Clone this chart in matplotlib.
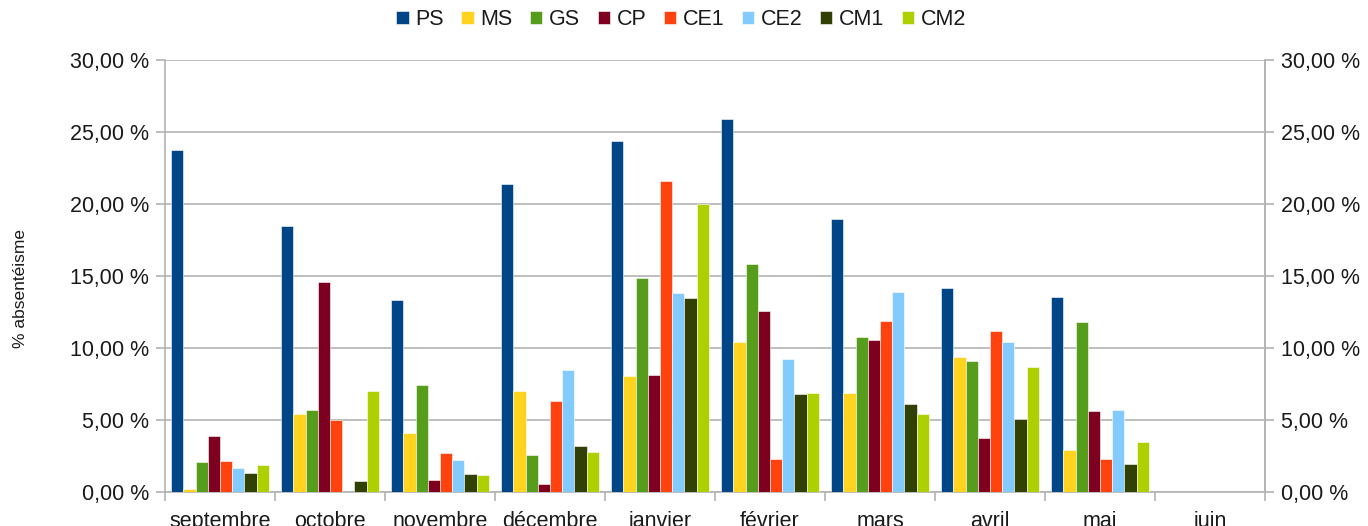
import numpy as np
import matplotlib.pyplot as plt
from matplotlib.ticker import FuncFormatter, FixedLocator

plt.rcParams['font.family'] = ['Liberation Sans', 'DejaVu Sans']

# months (x categories)
mois = ['septembre', 'octobre', 'novembre', 'décembre', 'janvier',
        'février', 'mars', 'avril', 'mai', 'juin']

# class levels (series)
classes = ['PS', 'MS', 'GS', 'CP', 'CE1', 'CE2', 'CM1', 'CM2']
couleurs = ['#004586', '#ffd320', '#579d1c', '#7e0021',
            '#ff420e', '#83caff', '#314004', '#aecf00']

# absenteeism in %, one list per class, juin has no data
ps = [23.77, 18.47, 13.36, 21.39, 24.40, 25.88, 18.94, 14.14, 13.52, np.nan]
ms = [0.21, 5.42, 4.10, 6.99, 8.06, 10.44, 6.90, 9.38, 2.94, np.nan]
gs = [2.06, 5.67, 7.43, 2.57, 14.84, 15.81, 10.79, 9.12, 11.78, np.nan]
cp = [3.91, 14.58, 0.83, 0.56, 8.15, 12.57, 10.53, 3.72, 5.60, np.nan]
ce1 = [2.15, 4.97, 2.69, 6.30, 21.57, 2.31, 11.88, 11.16, 2.31, np.nan]
ce2 = [1.69, 0.00, 2.22, 8.50, 13.80, 9.21, 13.89, 10.44, 5.67, np.nan]
cm1 = [1.34, 0.74, 1.25, 3.19, 13.45, 6.83, 6.11, 5.05, 1.97, np.nan]
cm2 = [1.88, 6.99, 1.16, 2.75, 20.00, 6.90, 5.42, 8.68, 3.47, np.nan]

series = [ps, ms, gs, cp, ce1, ce2, cm1, cm2]

fig = plt.figure(figsize=(13.68, 5.26), dpi=100)
ax = fig.add_axes([165 / 1368, 34 / 526, 1100 / 1368, 432 / 526])

x = np.arange(len(mois))
w = 0.89 / len(classes)
for i, (nom, vals, c) in enumerate(zip(classes, series, couleurs)):
    pos = x - 0.445 + w * (i + 0.5)
    ax.bar(pos, vals, width=w, color=c, label=nom,
           edgecolor='white', linewidth=0.4, zorder=3)

ax.set_xlim(-0.5, len(mois) - 0.5)
ax.set_ylim(0, 30)
ax.set_yticks(np.arange(0, 31, 5))
fmt = FuncFormatter(lambda v, p: ('%.2f' % v).replace('.', ',') + ' %')
ax.yaxis.set_major_formatter(fmt)

grise = '#b3b3b3'
texte = '#1a1a1a'
taille = 15.5
ax.grid(axis='y', color=grise, linewidth=1.2, zorder=0)
ax.set_axisbelow(True)

# month labels centred, ticks on boundaries
ax.set_xticks(x)
ax.set_xticklabels(mois)
ax.xaxis.set_minor_locator(FixedLocator(np.arange(-0.5, len(mois), 1)))
ax.tick_params(axis='x', which='major', length=0, pad=14, labelsize=taille, labelcolor=texte)
ax.tick_params(axis='x', which='minor', length=6.5, color=grise, width=1.2)
ax.tick_params(axis='y', length=6.5, color=grise, width=1.2, labelsize=taille,
               labelcolor=texte, pad=5)

ax.spines['top'].set_visible(False)
for s in ['left', 'right', 'bottom']:
    ax.spines[s].set_color(grise)
    ax.spines[s].set_linewidth(1.2)

ax2 = ax.twinx()
ax2.set_ylim(0, 30)
ax2.set_yticks(np.arange(0, 31, 5))
ax2.yaxis.set_major_formatter(fmt)
ax2.tick_params(axis='y', length=6.5, color=grise, width=1.2, labelsize=taille,
                labelcolor=texte, pad=5)
for s in ['top', 'left', 'bottom']:
    ax2.spines[s].set_visible(False)
ax2.spines['right'].set_color(grise)
ax2.spines['right'].set_linewidth(1.2)

ax.set_ylabel('% absentéisme', fontsize=12.5, color=texte)
ax.yaxis.set_label_coords(-0.1245, 0.47)

fig.legend(*ax.get_legend_handles_labels(), loc='center', bbox_to_anchor=(0.498, 0.962),
           ncol=8, frameon=False, fontsize=taille, handlelength=0.56, handleheight=0.56,
           handletextpad=0.33, columnspacing=0.8, labelcolor=texte)

fig.savefig('out.png', dpi=100)
